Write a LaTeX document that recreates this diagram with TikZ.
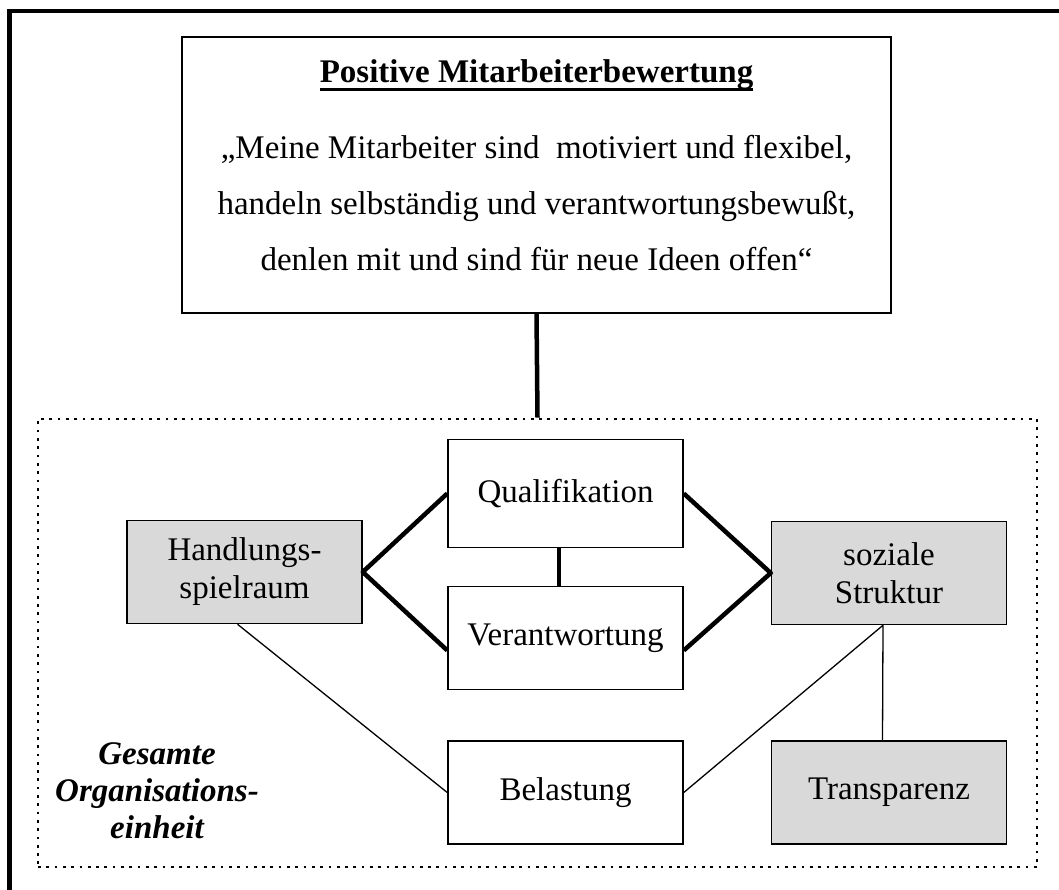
\documentclass[tikz,border=0pt]{standalone}
\usepackage{fontspec}
\setmainfont{Liberation Serif}
\usetikzlibrary{positioning}
\definecolor{boxgray}{RGB}{217,217,217}
\newcommand\headrule[1]{\setbox0\hbox{#1}\rlap{\rule[-8.5pt]{\wd0}{3pt}}\box0}

\begin{document}
\begin{tikzpicture}[
    x=1pt, y=-1pt,
    every node/.style={text=black, font=\fontsize{33}{38}\selectfont},
    mbox/.style={rectangle, draw, line width=1.5pt, fill=white, minimum width=235pt, minimum height=103pt, align=center, inner sep=2pt},
    gbox/.style={mbox, fill=boxgray},
    link/.style={draw, line width=4.5pt, line join=round},
    thinlink/.style={draw, line width=1.3pt},
    frame/.style={draw, line width=4.5pt},
    orgframe/.style={draw, line width=2.7pt, dash pattern=on 2.7pt off 5.6pt}
]
    \useasboundingbox (0,0) rectangle (1059,890);
    \clip (0,0) rectangle (1059,890);
    \draw[frame] (9.5,11) rectangle (1080,910);
    % statement
    \node[draw, line width=1.5pt, minimum width=709pt, minimum height=276pt] (top) at (536.5,175) {};
    \node[anchor=base, font=\fontsize{33}{38}\selectfont\bfseries] (head) at (536.5,83) {\headrule{Positive Mitarbeiterbewertung}};
    \node[align=center, font=\fontsize{33}{56}\selectfont] (quote) at (536.5,203)
        {„Meine Mitarbeiter sind~ motiviert und flexibel,\\handeln selbständig und verantwortungsbewußt,\\denlen mit und sind für neue Ideen offen“};
    % organisation
    \node[orgframe, minimum width=999pt, minimum height=448pt] (org) at (537.5,643) {};
    \draw[link] (top.south) -- (org.north);
    \node[mbox, minimum height=108pt] (qual) at (565.5,493.5) {Qualifikation};
    \node[mbox, below=37.5pt of qual] (verant) {Verantwortung};
    \node[mbox, below=50pt of verant] (bel) {Belastung};
    \node[gbox, right=87pt of bel] (trans) {Transparenz};
    \node[gbox, above=115pt of trans] (soz) {soziale\\Struktur};
    \node[gbox] (hand) at (244.5,572) {Handlungs-\\spielraum};
    \node[align=center, font=\fontsize{33}{37}\selectfont\bfseries\itshape] (orglabel) at (157,791)
        {Gesamte\\Organisations-\\einheit};
    % connectors
    \draw[link] (qual.west) -- (hand.east) -- (verant.186);
    \draw[link] (qual.east) -- (soz.west) -- (verant.354);
    \draw[link] ([xshift=-6.5pt]qual.south) -- ([xshift=-6.5pt]verant.north);
    \draw[thinlink] ([xshift=-7pt]hand.south) -- (bel.west);
    \draw[thinlink] (bel.east) -- ([xshift=-6pt]soz.south) -- ([xshift=-6.5pt]trans.north);
\end{tikzpicture}
\end{document}
